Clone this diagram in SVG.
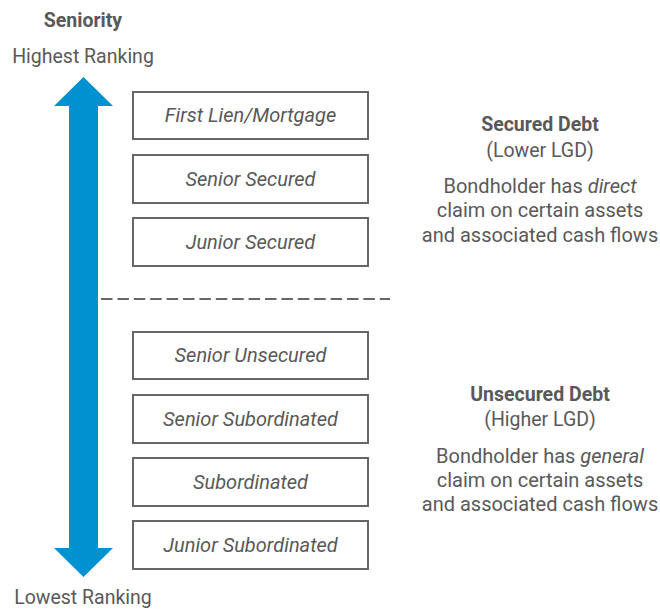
<svg xmlns="http://www.w3.org/2000/svg" width="660" height="609" viewBox="0 0 660 609">
<style>
text{font-family:Roboto,"Liberation Sans",sans-serif;fill:#595959;text-anchor:middle}
.lbl{font-size:19.5px}
.b{font-weight:bold}
.box rect{fill:#fff;stroke:#666;stroke-width:2}
.box text{font-size:20px;font-style:italic}
.r{font-size:20px}
</style>
<rect width="660" height="609" fill="#fff"/>
<g id="axis">
<text class="lbl b" x="83" y="27">Seniority</text>
<text class="lbl" x="83" y="63">Highest Ranking</text>
<text class="lbl" x="83" y="604">Lowest Ranking</text>
</g>
<g id="connectors">
<polygon points="83.5,77 113,106 98,106 98,548 113,548 83.5,577 54,548 69,548 69,106 54,106" fill="#0091d0"/>
<line x1="101" y1="299" x2="390" y2="299" stroke="#666" stroke-width="2" stroke-dasharray="11.5,4.9"/>
</g>
<g id="n1" class="box"><rect x="133" y="92" width="235" height="47"/><text x="250.5" y="122">First Lien/Mortgage</text></g>
<g id="n2" class="box"><rect x="133" y="155" width="235" height="48"/><text x="250.5" y="186">Senior Secured</text></g>
<g id="n3" class="box"><rect x="133" y="218" width="235" height="48"/><text x="250.5" y="249">Junior Secured</text></g>
<g id="n4" class="box"><rect x="133" y="332" width="235" height="47"/><text x="250.5" y="362">Senior Unsecured</text></g>
<g id="n5" class="box"><rect x="133" y="395" width="235" height="48"/><text x="250.5" y="426">Senior Subordinated</text></g>
<g id="n6" class="box"><rect x="133" y="458" width="235" height="48"/><text x="250.5" y="489">Subordinated</text></g>
<g id="n7" class="box"><rect x="133" y="521" width="235" height="48"/><text x="250.5" y="552">Junior Subordinated</text></g>
<g id="secured">
<text class="lbl b" x="540" y="131">Secured Debt</text>
<text class="lbl" x="540" y="157">(Lower LGD)</text>
<text class="r" x="540" y="193">Bondholder has <tspan font-style="italic">direct</tspan></text>
<text class="r" x="540" y="217">claim on certain assets</text>
<text class="r" x="540" y="242">and associated cash flows</text>
</g>
<g id="unsecured">
<text class="lbl b" x="540" y="401">Unsecured Debt</text>
<text class="lbl" x="540" y="426">(Higher LGD)</text>
<text class="r" x="540" y="463">Bondholder has <tspan font-style="italic">general</tspan></text>
<text class="r" x="540" y="487">claim on certain assets</text>
<text class="r" x="540" y="511">and associated cash flows</text>
</g>
</svg>
